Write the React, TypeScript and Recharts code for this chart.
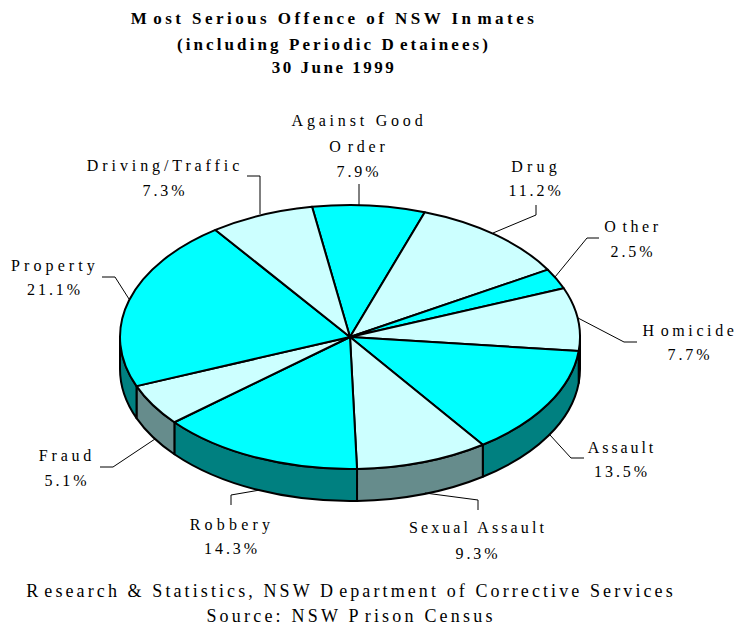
import React from 'react';
import { PieChart, Pie, Cell } from 'recharts';

const categories = [
  'Against Good Order', 'Drug', 'Other', 'Homicide', 'Assault',
  'Sexual Assault', 'Robbery', 'Fraud', 'Property', 'Driving/Traffic',
];
const shares = [7.9, 11.2, 2.5, 7.7, 13.5, 9.3, 14.3, 5.1, 21.1, 7.3];
const titleLines = ['Most Serious Offence of NSW Inmates', '(including Periodic Detainees)', '30 June 1999'];
const footerLines = ['Research & Statistics, NSW Department of Corrective Services', 'Source: NSW Prison Census'];

const data = categories.map((name, i) => ({ name, value: shares[i] }));

const CX = 350;
const CY = 337;
const RX = 230;
const RY = 132;
const DEPTH = 32;
const START = 99.5;
const FONT = '"Liberation Serif", serif';

const topFills = ['#00FFFF', '#CCFFFF'];
const wallFills = ['#008080', '#668C8C'];

const titleSpacing = [3.45, 3.1, 2.5];
const footerSpacing = [3.1, 3.2];

// where each label sits and how its leader runs, same order as categories
const labelLayout = [
  { x: 359, ys: [126, 152, 177], sp: 3.8, lines: ['Against Good', 'Order'], leader: '359,184 359,205' },
  { x: 536, ys: [172, 196], sp: 4.2, lines: ['Drug'], leader: '536,205 536,215 493,233' },
  { x: 633, ys: [232, 257], sp: 3.6, lines: ['Other'], leader: '599,238 587,238 555,277' },
  { x: 690, ys: [336, 360], sp: 3.6, lines: ['Homicide'], leader: '637,342 624,342 578,318' },
  { x: 622, ys: [453, 477], sp: 2.9, lines: ['Assault'], leader: '584,458 571,458 550,435' },
  { x: 478, ys: [533, 559], sp: 3.1, lines: ['Sexual Assault'], leader: '478,510 478,500 425,493' },
  { x: 232, ys: [530, 554], sp: 4.2, lines: ['Robbery'], leader: '231,505 231,495 260,490' },
  { x: 67, ys: [461, 486], sp: 3.8, lines: ['Fraud'], leader: '100,467 113,467 155,439' },
  { x: 55, ys: [271, 295], sp: 4.1, lines: ['Property'], leader: '102,277 115,277 129,299' },
  { x: 165, ys: [171, 196], sp: 3.9, lines: ['Driving/Traffic'], leader: '247,176 260,176 260,214' },
];

const pt = (deg: number, dy = 0) => {
  const a = (deg * Math.PI) / 180;
  return `${(CX + RX * Math.cos(a)).toFixed(2)} ${(CY - RY * Math.sin(a) + dy).toFixed(2)}`;
};

// the old renderer left a gap after the first letters of some words
const gapped = (line: string) =>
  line
    .split(/(?<=\b(?:M(?=ost)|D(?=etain|epart)|O(?=rder|ther)|H(?=omi)|R(?=esearch)|P(?=rison)|In(?=mates)))/)
    .map((part, i) => (
      <tspan key={i} dx={i === 0 ? 0 : 3}>
        {part}
      </tspan>
    ));

// recharts gives the angles, we squash the circle into the tilted ellipse
const TopSlice = (props: any) => {
  const { startAngle, endAngle, fill } = props;
  const large = Math.abs(startAngle - endAngle) > 180 ? 1 : 0;
  return (
    <path
      d={`M ${CX} ${CY} L ${pt(startAngle)} A ${RX} ${RY} 0 ${large} 1 ${pt(endAngle)} Z`}
      fill={fill}
      stroke="#000"
      strokeWidth={2}
      strokeLinejoin="round"
    />
  );
};

// only the front half of the rim shows
const WallSlice = (props: any) => {
  const { startAngle, endAngle, fill } = props;
  const from = Math.min(startAngle, 0);
  const to = Math.max(endAngle, -180);
  if (from <= to) return null;
  return (
    <path
      d={`M ${pt(from)} A ${RX} ${RY} 0 0 1 ${pt(to)} L ${pt(to, DEPTH)} A ${RX} ${RY} 0 0 0 ${pt(from, DEPTH)} Z`}
      fill={fill}
      stroke="#000"
      strokeWidth={2}
      strokeLinejoin="round"
    />
  );
};

const renderLabel = (props: any) => {
  const { index } = props;
  const item = labelLayout[index];
  const pct = `${shares[index].toFixed(1)}%`;
  return (
    <g key={categories[index]} fontFamily={FONT} fontSize={16} fill="#000" textAnchor="middle">
      <polyline points={item.leader} fill="none" stroke="#000" strokeWidth={1} />
      {item.lines.map((row, i) => (
        <text key={row} x={item.x} y={item.ys[i]} letterSpacing={item.sp}>
          {gapped(row)}
        </text>
      ))}
      <text x={item.x} y={item.ys[item.lines.length]} letterSpacing={2.9}>
        {pct}
      </text>
    </g>
  );
};

export default function App() {
  return (
    <div style={{ position: 'absolute', left: 0, top: 0, width: 739, height: 627, background: '#fff' }}>
      <PieChart width={739} height={627}>
        <Pie
          data={data}
          dataKey="value"
          cx={CX}
          cy={CY}
          outerRadius={RX}
          startAngle={START}
          endAngle={START - 360}
          stroke="none"
          label={false}
          labelLine={false}
          shape={WallSlice}
          activeShape={WallSlice}
          inactiveShape={WallSlice}
          isAnimationActive={false}
        >
          {data.map((d, i) => (
            <Cell key={d.name} fill={wallFills[i % 2]} />
          ))}
        </Pie>
        <Pie
          data={data}
          dataKey="value"
          cx={CX}
          cy={CY}
          outerRadius={RX}
          startAngle={START}
          endAngle={START - 360}
          stroke="none"
          label={renderLabel}
          labelLine={false}
          shape={TopSlice}
          activeShape={TopSlice}
          inactiveShape={TopSlice}
          isAnimationActive={false}
        >
          {data.map((d, i) => (
            <Cell key={d.name} fill={topFills[i % 2]} />
          ))}
        </Pie>
        {titleLines.map((line, i) => (
          <text
            key={line}
            x={334}
            y={[24, 50, 73][i]}
            textAnchor="middle"
            fontFamily={FONT}
            fontWeight="bold"
            fontSize={17}
            letterSpacing={titleSpacing[i]}
            fill="#000"
          >
            {gapped(line)}
          </text>
        ))}
        {footerLines.map((line, i) => (
          <text
            key={line}
            x={351}
            y={[597, 622][i]}
            textAnchor="middle"
            fontFamily={FONT}
            fontSize={18}
            letterSpacing={footerSpacing[i]}
            fill="#000"
          >
            {gapped(line)}
          </text>
        ))}
      </PieChart>
    </div>
  );
}
